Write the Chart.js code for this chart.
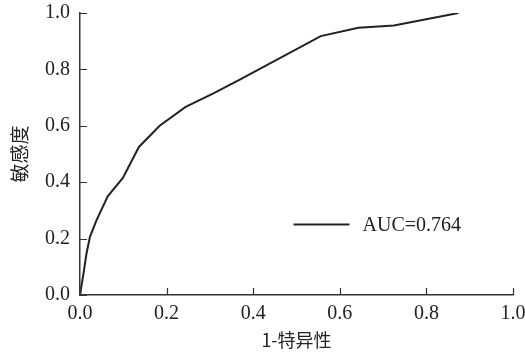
<!DOCTYPE html>
<html>
<head>
<meta charset="utf-8">
<script src="https://cdn.jsdelivr.net/npm/chart.js@4/dist/chart.umd.min.js"></script>
<style>
html,body{margin:0;padding:0;background:#fff;}
#wrap{width:525px;height:353px;}
</style>
</head>
<body>
<div id="wrap"><canvas id="c" width="525" height="353"></canvas></div>
<script>
const fpr = [0, 0.008, 0.015, 0.023, 0.038, 0.064, 0.099, 0.136, 0.184, 0.244, 0.307, 0.369, 0.556, 0.643, 0.725, 0.874];
const tpr = [0, 0.076, 0.147, 0.206, 0.265, 0.35, 0.415, 0.525, 0.60, 0.667, 0.714, 0.764, 0.918, 0.948, 0.956, 1.0];
const seriesLabel = 'AUC=0.764';
const xTitle = '1-特异性';
const yTitle = '敏感度';
const tickValues = [0, 0.2, 0.4, 0.6, 0.8, 1.0];

const FONT = "'Liberation Serif','Times New Roman',serif";
const CJK = "'Noto Sans CJK SC','Liberation Serif',serif";
const AXIS = '#333';

const innerTicks = {
  id: 'innerTicks',
  afterDraw(chart) {
    const ctx = chart.ctx;
    const xs = chart.scales.x, ys = chart.scales.y;
    const a = chart.chartArea;
    ctx.save();
    ctx.strokeStyle = AXIS;
    ctx.lineWidth = 1.2;
    ctx.beginPath();
    tickValues.forEach(v => {
      const px = Math.round(xs.getPixelForValue(v)) + 0.5;
      ctx.moveTo(px, a.bottom); ctx.lineTo(px, a.bottom - 7);
      const py = Math.round(ys.getPixelForValue(v)) + 0.5;
      ctx.moveTo(a.left, py); ctx.lineTo(a.left + 7, py);
    });
    ctx.stroke();
    // legend
    const ds = chart.data.datasets[0];
    const lx = xs.getPixelForValue(0.5) - 3, ly = ys.getPixelForValue(0.25);
    ctx.strokeStyle = ds.borderColor;
    ctx.lineWidth = 2;
    ctx.beginPath();
    ctx.moveTo(lx, ly); ctx.lineTo(lx + 56, ly);
    ctx.stroke();
    ctx.fillStyle = '#222';
    ctx.font = '20px ' + FONT;
    ctx.textBaseline = 'middle';
    ctx.textAlign = 'left';
    ctx.fillText(ds.label, lx + 69, ly + 1);
    ctx.restore();
  }
};

new Chart(document.getElementById('c'), {
  type: 'line',
  data: {
    datasets: [{
      label: seriesLabel,
      data: fpr.map((x, i) => ({x: x, y: tpr[i]})),
      borderColor: '#222',
      borderWidth: 2,
      pointRadius: 0,
      tension: 0,
      fill: false
    }]
  },
  options: {
    responsive: false,
    animation: false,
    devicePixelRatio: 1,
    layout: {autoPadding: false, padding: {top: 13, right: 12, left: 0, bottom: 0}},
    plugins: {legend: {display: false}, tooltip: {enabled: false}},
    scales: {
      x: {
        type: 'linear', min: 0, max: 1,
        afterBuildTicks(s) { s.ticks = tickValues.map(v => ({value: v})); },
        afterFit(s) { s.height = 58; s.paddingLeft = 0; s.paddingRight = 0; s.paddingTop = 0; s.paddingBottom = 0; },
        grid: {display: false, drawTicks: false},
        border: {display: true, color: AXIS, width: 1.5},
        ticks: {
          color: '#222', padding: 7,
          font: {family: FONT, size: 20},
          callback: v => v.toFixed(1)
        },
        title: {display: true, text: xTitle, color: '#222', font: {family: CJK, size: 18}, padding: {top: 0, bottom: 2}}
      },
      y: {
        type: 'linear', min: 0, max: 1,
        afterBuildTicks(s) { s.ticks = tickValues.map(v => ({value: v})); },
        afterFit(s) { s.width = 80; s.paddingLeft = 0; s.paddingRight = 0; s.paddingTop = 0; s.paddingBottom = 0; },
        grid: {display: false, drawTicks: false},
        border: {display: true, color: AXIS, width: 1.5},
        ticks: {
          color: '#222', padding: 10,
          font: {family: FONT, size: 20},
          callback: v => v.toFixed(1)
        },
        title: {display: true, text: yTitle, color: '#222', font: {family: CJK, size: 19}, padding: {top: 8, bottom: 0}}
      }
    }
  },
  plugins: [innerTicks]
});
</script>
</body>
</html>
